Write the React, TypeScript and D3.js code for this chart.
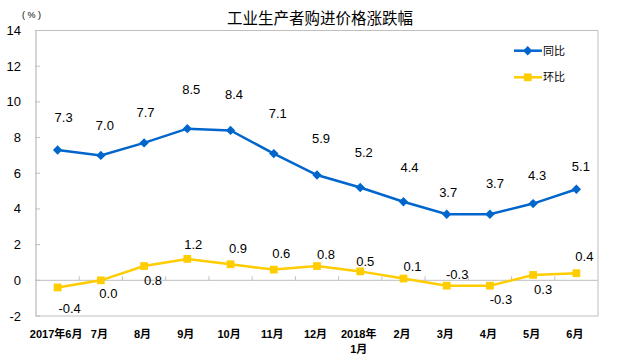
import React from "react";
import * as d3 from "d3";

const categories = ["2017年6月", "7月", "8月", "9月", "10月", "11月", "12月", "2018年\n1月", "2月", "3月", "4月", "5月", "6月"];
const yoyValues = [7.3, 7.0, 7.7, 8.5, 8.4, 7.1, 5.9, 5.2, 4.4, 3.7, 3.7, 4.3, 5.1];
const momValues = [-0.4, 0.0, 0.8, 1.2, 0.9, 0.6, 0.8, 0.5, 0.1, -0.3, -0.3, 0.3, 0.4];
const yTicks = [-2, 0, 2, 4, 6, 8, 10, 12, 14];
const seriesNames = ["同比", "环比"];
const title = "工业生产者购进价格涨跌幅";

// label nudges (px) relative to point, as placed in the original
const yoyLabelDx = [6, 4, 1.5, 4, 3.5, 4, 4, 3.5, 6, 1.5, 5, 4, 4.5];
const yoyLabelDy = [-33, -30, -30, -39, -35.5, -40.5, -37, -35.5, -34.5, -22, -31, -28.5, -23];
const momLabelDx = [12, 7.5, 9, 6, 7.5, 7.5, 9, 5, 9, 10.5, 11, 10, 8];
const momLabelDy = [21, 13, 14, -14.5, -15.5, -16.5, -12, -9.5, -12.5, -11, 14, 14.5, -17];

const W = 617, H = 359;
const left = 36, right = 598, top = 30.5, bottom = 316;
const BLUE = "#0066CC";
const YELLOW = "#FFCC00";
const GRID = "#BFBFBF";
const NUM_FONT = "'Liberation Sans', Arial, sans-serif";
const CJK_FONT = "'Liberation Sans', 'Noto Sans CJK SC', sans-serif";

export default function App() {
  const x = d3.scaleBand<number>().domain(d3.range(categories.length)).range([left, right]).paddingInner(0).paddingOuter(0);
  const y = d3.scaleLinear().domain([-2, 14]).range([bottom, top]);
  const cx = (i: number) => (x(i) as number) + x.bandwidth() / 2;
  const line = d3.line<number>().x((_, i) => cx(i)).y((d) => y(d));
  const diamond = d3.symbol().type(d3.symbolDiamond2).size(56)();
  const square = d3.symbol().type(d3.symbolSquare).size(60)();

  return (
    <svg width={W} height={H} style={{ position: "absolute", left: 0, top: 0, background: "#fff" }}>
      <rect x={0} y={0} width={W} height={H} fill="#fff" />
      <text x={320} y={24} textAnchor="middle" fontFamily="'Noto Sans CJK SC', sans-serif" fontSize={15.5} fill="#000">{title}</text>
      <text x={22} y={18} fontFamily={NUM_FONT} fontSize={9} letterSpacing={2.5} fill="#000">(%)</text>

      {/* plot frame */}
      <line x1={left} x2={right} y1={top} y2={top} stroke={GRID} strokeWidth={1} />
      <line x1={right} x2={right} y1={top} y2={bottom} stroke={GRID} strokeWidth={1} />
      <line x1={left} x2={right} y1={bottom} y2={bottom} stroke={GRID} strokeWidth={1} />
      <line x1={left} x2={left} y1={top} y2={bottom} stroke={GRID} strokeWidth={1.3} />
      {/* zero line */}
      <line x1={left} x2={right} y1={y(0)} y2={y(0)} stroke={GRID} strokeWidth={1} />
      {d3.range(1, categories.length).map((i) => (
        <line key={"xt" + i} x1={x(i) as number} x2={x(i) as number} y1={y(0) - 4} y2={y(0)} stroke={GRID} strokeWidth={1} />
      ))}
      {yTicks.map((t) => (
        <g key={"yt" + t}>
          <line x1={left - 1} x2={left + 4} y1={y(t)} y2={y(t)} stroke={GRID} strokeWidth={1} />
          <text x={21} y={y(t) + 4.5} textAnchor="end" fontFamily={NUM_FONT} fontSize={13} fill="#000">{t}</text>
        </g>
      ))}

      {categories.map((c, i) => {
        const lines = c.split("\n");
        return (
          <text key={"xl" + i} x={cx(i) - 1.5} y={338} textAnchor="middle" fontFamily={CJK_FONT} fontSize={11} fontWeight="bold" fill="#000">
            {lines.map((l, k) => (
              <tspan key={k} x={cx(i) - 1.5} dy={k === 0 ? 0 : 15}>{l}</tspan>
            ))}
          </text>
        );
      })}

      <path d={line(yoyValues) || ""} fill="none" stroke={BLUE} strokeWidth={2.5} />
      {yoyValues.map((v, i) => (
        <path key={"yp" + i} d={diamond || ""} transform={`translate(${cx(i)},${y(v)})`} fill={BLUE} />
      ))}
      <path d={line(momValues) || ""} fill="none" stroke={YELLOW} strokeWidth={2.5} />
      {momValues.map((v, i) => (
        <path key={"mp" + i} d={square || ""} transform={`translate(${cx(i)},${y(v)})`} fill={YELLOW} />
      ))}

      {yoyValues.map((v, i) => (
        <text key={"yl" + i} x={cx(i) + yoyLabelDx[i]} y={y(v) + yoyLabelDy[i] + 4.5} textAnchor="middle" fontFamily={NUM_FONT} fontSize={13} fill="#000">{v.toFixed(1)}</text>
      ))}
      {momValues.map((v, i) => (
        <text key={"ml" + i} x={cx(i) + momLabelDx[i]} y={y(v) + momLabelDy[i] + 4.5} textAnchor="middle" fontFamily={NUM_FONT} fontSize={13} fill="#000">{v.toFixed(1)}</text>
      ))}

      {/* legend */}
      {[BLUE, YELLOW].map((col, k) => {
        const ly = k === 0 ? 50.7 : 77.3;
        return (
          <g key={"lg" + k}>
            <line x1={514} x2={542} y1={ly} y2={ly} stroke={col} strokeWidth={2.5} />
            <path d={(k === 0 ? diamond : square) || ""} transform={`translate(527.7,${ly})`} fill={col} />
            <text x={543} y={ly + 4} fontFamily={CJK_FONT} fontSize={11} fill="#000">{seriesNames[k]}</text>
          </g>
        );
      })}
    </svg>
  );
}
